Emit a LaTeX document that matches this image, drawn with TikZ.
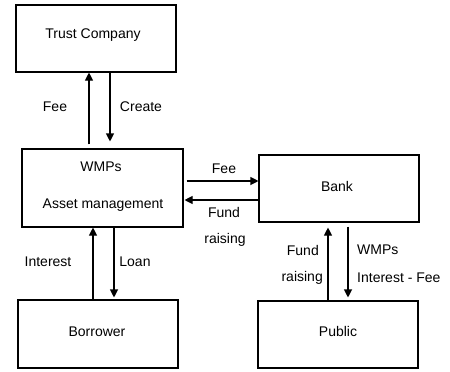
\documentclass[tikz,border=0pt]{standalone}
\usepackage{fontspec}
\setmainfont{Liberation Sans}
\usetikzlibrary{arrows.meta}
\begin{document}
\begin{tikzpicture}[x=1bp,y=-1bp,
  box/.style={draw,line width=1.1bp,minimum width=160bp,minimum height=67bp,inner sep=0pt},
  arr/.style={line width=1.1bp,-{Triangle[length=8bp,width=8bp]}},
  lbl/.style={inner sep=0pt,font=\fontsize{14bp}{17bp}\selectfont}]
\useasboundingbox (0,0) rectangle (450,371);
\tikzset{every node/.append style={font=\fontsize{14bp}{17bp}\selectfont}}
% boxes
\node[box] (trust) at (96,38.5) {};
\node[box,minimum width=161bp,minimum height=78bp] (wmp) at (102.5,188) {};
\node[box,minimum height=68bp] (borrower) at (98,334) {};
\node[box] (bank) at (339,188.5) {};
\node[box] (public) at (338,334.5) {};
% box texts
\node[lbl] (tTrust) at (93,35) {Trust Company};
\node[lbl] (tWmps) at (101,167) {WMPs};
\node[lbl] (tAsset) at (103,205) {Asset management};
\node[lbl] (tBorrower) at (97,332) {Borrower};
\node[lbl] (tBank) at (337,186) {Bank};
\node[lbl] (tPublic) at (338,331) {Public};
% x guides
\coordinate (xa) at (89,0);
\coordinate (xb) at (110,0);
\coordinate (xc) at (93,0);
\coordinate (xd) at (114,0);
\coordinate (xe) at (328,0);
\coordinate (xf) at (348,0);
\coordinate (ya) at (0,181);
\coordinate (yb) at (0,200);
% arrows
\draw[arr,shorten <=4bp] (wmp.north -| xa) -- (trust.south -| xa);
\draw[arr,shorten >=7bp] (trust.south -| xb) -- (wmp.north -| xb);
\draw[arr] (borrower.north -| xc) -- (wmp.south -| xc);
\draw[arr,shorten >=2bp] (wmp.south -| xd) -- (borrower.north -| xd);
\draw[arr,shorten <=3bp] (wmp.east |- ya) -- (bank.west |- ya);
\draw[arr,shorten >=1bp] (bank.west |- yb) -- (wmp.east |- yb);
\draw[arr,shorten >=5bp] (public.north -| xe) -- (bank.south -| xe);
\draw[arr,shorten <=4bp,shorten >=3bp] (bank.south -| xf) -- (public.north -| xf);
% labels
\node[lbl] (lFee1) at (55,107) {Fee};
\node[lbl] (lCreate) at (141,107) {Create};
\node[lbl] (lFee2) at (224,169) {Fee};
\node[lbl] (lFund1) at (224,212) {Fund};
\node[lbl] (lRais1) at (225,240) {raising};
\node[lbl] (lInterest) at (48,262) {Interest};
\node[lbl] (lLoan) at (135,262) {Loan};
\node[lbl,anchor=east] (lFund2) at (319,250) {Fund};
\node[lbl,anchor=east] (lRais2) at (323,278) {raising};
\node[lbl,anchor=west] (lWmps2) at (357,250) {WMPs};
\node[lbl,anchor=west] (lIntFee) at (357,278) {Interest - Fee};
\end{tikzpicture}
\end{document}
